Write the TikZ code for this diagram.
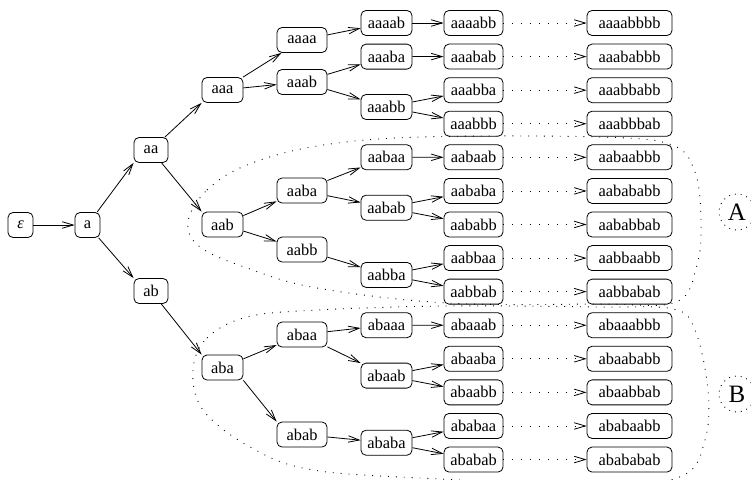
\documentclass[tikz,border=0pt]{standalone}
\usepackage{fontspec}
\setmainfont{Liberation Serif}
\usetikzlibrary{arrows.meta}
\tikzset{
  box/.style={draw, rounded corners=5pt, minimum height=25pt, inner sep=0pt, line width=0.8pt,
              font=\fontsize{16.4}{18}\selectfont},
  w25/.style={box, minimum width=25pt},
  w34/.style={box, minimum width=34pt},
  w41/.style={box, minimum width=41pt},
  w50/.style={box, minimum width=50pt},
  w51/.style={box, minimum width=51pt},
  w59/.style={box, minimum width=59pt},
  w85/.style={box, minimum width=85pt},
  edge/.style={line width=0.8pt, -{Straight Barb[length=11pt,width=6.5pt]}},
  dotedge/.style={line width=0.8pt, dash pattern=on 0.9pt off 8pt, -{Straight Barb[length=11pt,width=6.5pt]}},
  region/.style={line width=0.9pt, dash pattern=on 0.9pt off 7pt},
  tag/.style={circle, draw, line width=0.9pt, dash pattern=on 0.9pt off 5pt, minimum size=36pt, inner sep=0pt,
              font=\fontsize{25}{25}\selectfont}
}
\begin{document}
\begin{tikzpicture}[x=1pt,y=-1pt]
\useasboundingbox (0,0) rectangle (751,479);
\clip (0,0) rectangle (751,479);
% level 0-2
\node[w25] (e) at (20.5,225) {\itshape ε};
\node[w25] (a) at (87.5,225) {a};
\node[w34] (aa) at (151,150) {aa};
\node[w34] (ab) at (151,291) {ab};
% level 3
\node[w41] (aaa) at (222.5,90) {aaa};
\node[w41] (aab) at (222.5,224.5) {aab};
\node[w41] (aba) at (222.5,367.5) {aba};
% level 4
\node[w50] (aaaa) at (302,40) {aaaa};
\node[w50] (aaab) at (302,82) {aaab};
\node[w50] (aaba) at (302,190.5) {aaba};
\node[w50] (aabb) at (302,249.5) {aabb};
\node[w50] (abaa) at (302,334.5) {abaa};
\node[w50] (abab) at (302,434.5) {abab};
% level 5
\node[w51] (aaaab) at (386.5,23) {aaaab};
\node[w51] (aaaba) at (386.5,56.6) {aaaba};
\node[w51] (aaabb) at (386.5,107) {aaabb};
\node[w51] (aabaa) at (386.5,157.3) {aabaa};
\node[w51] (aabab) at (386.5,207.7) {aabab};
\node[w51] (aabba) at (386.5,274.9) {aabba};
\node[w51] (abaaa) at (386.5,325.2) {abaaa};
\node[w51] (abaab) at (386.5,375.6) {abaab};
\node[w51] (ababa) at (386.5,442.7) {ababa};
% level 6 and 8
\foreach \s/\t/\r in {aaaabb/aaaabbbb/0, aaabab/aaababbb/1, aaabba/aaabbabb/2, aaabbb/aaabbbab/3,
    aabaab/aabaabbb/4, aababa/aabababb/5, aababb/aababbab/6, aabbaa/aabbaabb/7, aabbab/aabbabab/8,
    abaaab/abaaabbb/9, abaaba/abaababb/10, abaabb/abaabbab/11, ababaa/ababaabb/12, ababab/abababab/13}{
  \node[w59] (\s) at (473.5,23+33.58*\r) {\s};
  \node[w85] (\t) at (629.5,23+33.58*\r) {\t};
  \draw[dotedge] (\s) -- (\t);
}
% edges
\draw[edge] (e) -- (a);
\draw[edge] (a) -- (aa.south west);
\draw[edge] (a) -- (ab.north west);
\draw[edge] (aa) -- (aaa.south west);
\draw[edge] (aa) -- (aab.north west);
\draw[edge] (ab) -- (aba.north west);
\draw[edge] (aaa) -- (aaaa);
\draw[edge] (aaa) -- (aaab);
\draw[edge] (aab) -- (aaba);
\draw[edge] (aab) -- (aabb);
\draw[edge] (aba) -- (abaa);
\draw[edge] (aba.south east) -- (abab.north west);
\draw[edge] (aaaa) -- (aaaab);
\draw[edge] (aaab) -- (aaaba);
\draw[edge] (aaab) -- (aaabb);
\draw[edge] (aaba) -- (aabaa);
\draw[edge] (aaba) -- (aabab);
\draw[edge] (aabb) -- (aabba);
\draw[edge] (abaa) -- (abaaa);
\draw[edge] (abaa) -- (abaab);
\draw[edge] (abab) -- (ababa);
\draw[edge] (aaaab) -- (aaaabb);
\draw[edge] (aaaba) -- (aaabab);
\draw[edge] (aaabb) -- (aaabba);
\draw[edge] (aaabb) -- (aaabbb);
\draw[edge] (aabaa) -- (aabaab);
\draw[edge] (aabab) -- (aababa);
\draw[edge] (aabab) -- (aababb);
\draw[edge] (aabba) -- (aabbaa);
\draw[edge] (aabba) -- (aabbab);
\draw[edge] (abaaa) -- (abaaab);
\draw[edge] (abaab) -- (abaaba);
\draw[edge] (abaab) -- (abaabb);
\draw[edge] (ababa) -- (ababaa);
\draw[edge] (ababa) -- (ababab);
% regions
\draw[region] plot[smooth cycle, tension=0.6] coordinates {
  (188,222) (207,190) (247,165) (317,146) (420,137) (600,137) (672,145) (695,172)
  (701,220) (697,265) (676,302) (600,304) (447,303) (317,288) (247,268) (200,247)};
\draw[region] plot[smooth cycle, tension=0.6] coordinates {
  (193,370) (207,338) (247,317) (317,310) (447,306) (600,307) (673,309) (695,330)
  (708,390) (705,440) (682,476) (600,486) (440,479) (313,470) (250,447) (203,410)};
\node[tag] (A) at (737,212) {A};
\node[tag] (B) at (737,394) {B};
\end{tikzpicture}
\end{document}
